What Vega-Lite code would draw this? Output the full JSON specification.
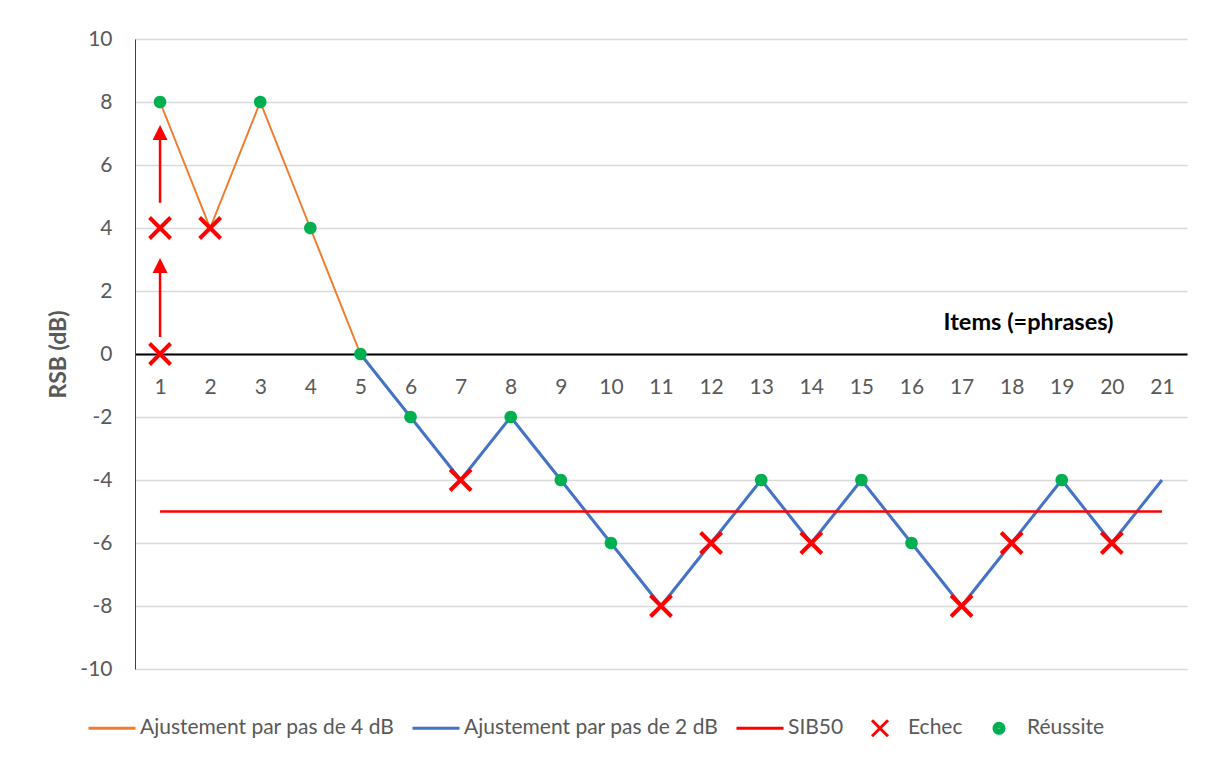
{
  "$schema": "https://vega.github.io/schema/vega-lite/v6.json",
  "width": 1052,
  "height": 630,
  "autosize": {"type": "none"},
  "padding": {"left": 135, "top": 39, "right": 25, "bottom": 89},
  "background": "white",
  "config": {
    "view": {"stroke": null},
    "font": "Lato",
    "legend": {
      "orient": "none", "legendX": -48, "legendY": 664, "direction": "horizontal",
      "symbolSize": 2209, "symbolStrokeWidth": 3, "labelFontSize": 21, "labelColor": "#595959", "labelFont": "Lato",
      "labelOffset": 3, "columnPadding": 11, "padding": 0, "labelLimit": 400, "symbolOpacity": 1
    }
  },
  "datasets": {
    "orange": [
      {"item": 1, "rsb": 8}, {"item": 2, "rsb": 4}, {"item": 3, "rsb": 8}, {"item": 4, "rsb": 4}, {"item": 5, "rsb": 0}
    ],
    "blue": [
      {"item": 5, "rsb": 0}, {"item": 6, "rsb": -2}, {"item": 7, "rsb": -4}, {"item": 8, "rsb": -2},
      {"item": 9, "rsb": -4}, {"item": 10, "rsb": -6}, {"item": 11, "rsb": -8}, {"item": 12, "rsb": -6},
      {"item": 13, "rsb": -4}, {"item": 14, "rsb": -6}, {"item": 15, "rsb": -4}, {"item": 16, "rsb": -6},
      {"item": 17, "rsb": -8}, {"item": 18, "rsb": -6}, {"item": 19, "rsb": -4}, {"item": 20, "rsb": -6},
      {"item": 21, "rsb": -4}
    ],
    "sib": [{"item": 1, "item2": 21, "rsb": -5}],
    "arrows": [{"item": 1, "rsb": 0.54, "rsb2": 2.6}, {"item": 1, "rsb": 4.8, "rsb2": 6.8}],
    "heads": [{"item": 1, "rsb": 2.57}, {"item": 1, "rsb": 6.79}],
    "marks": [
      {"item": 1, "rsb": 0, "result": "Echec"}, {"item": 1, "rsb": 4, "result": "Echec"},
      {"item": 2, "rsb": 4, "result": "Echec"}, {"item": 7, "rsb": -4, "result": "Echec"},
      {"item": 11, "rsb": -8, "result": "Echec"}, {"item": 12, "rsb": -6, "result": "Echec"},
      {"item": 14, "rsb": -6, "result": "Echec"}, {"item": 17, "rsb": -8, "result": "Echec"},
      {"item": 18, "rsb": -6, "result": "Echec"}, {"item": 20, "rsb": -6, "result": "Echec"},
      {"item": 1, "rsb": 8, "result": "Réussite"}, {"item": 3, "rsb": 8, "result": "Réussite"},
      {"item": 4, "rsb": 4, "result": "Réussite"}, {"item": 5, "rsb": 0, "result": "Réussite"},
      {"item": 6, "rsb": -2, "result": "Réussite"}, {"item": 8, "rsb": -2, "result": "Réussite"},
      {"item": 9, "rsb": -4, "result": "Réussite"}, {"item": 10, "rsb": -6, "result": "Réussite"},
      {"item": 13, "rsb": -4, "result": "Réussite"}, {"item": 15, "rsb": -4, "result": "Réussite"},
      {"item": 16, "rsb": -6, "result": "Réussite"}, {"item": 19, "rsb": -4, "result": "Réussite"}
    ]
  },
  "encoding": {
    "x": {
      "field": "item", "type": "quantitative",
      "scale": {"domain": [0.5, 21.5], "nice": false, "zero": false},
      "axis": {
        "values": [1,2,3,4,5,6,7,8,9,10,11,12,13,14,15,16,17,18,19,20,21],
        "offset": -315, "domainColor": "black", "domainWidth": 2,
        "ticks": false, "tickSize": 0, "grid": false,
        "labelPadding": 22, "labelFontSize": 21, "labelColor": "#595959", "labelFont": "Lato",
        "labelFlush": false, "labelOverlap": false,
        "title": "Items (=phrases)", "titleFont": "Lato", "titleFontSize": 23.5, "titleFontWeight": "bold",
        "titleColor": "black", "titleX": 978, "titleY": -25, "titleAlign": "right", "titleBaseline": "alphabetic"
      }
    },
    "y": {
      "field": "rsb", "type": "quantitative",
      "scale": {"domain": [-10, 10], "nice": false, "zero": false},
      "axis": {
        "values": [-10,-8,-6,-4,-2,0,2,4,6,8,10],
        "labelExpr": "'' + datum.value",
        "ticks": false, "tickSize": 0, "labelPadding": 23,
        "domainColor": "#404040", "domainWidth": 1,
        "gridColor": "#D9D9D9", "gridWidth": 1.5,
        "labelFontSize": 21, "labelColor": "#595959", "labelFont": "Lato",
        "title": "RSB (dB)", "titleFont": "Lato", "titleFontSize": 23, "titleFontWeight": "bold", "titleColor": "#595959",
        "titleX": -77, "titleY": 315, "titleAngle": -90, "titleAlign": "center", "titleBaseline": "middle"
      }
    }
  },
  "layer": [
    {
      "data": {"name": "orange"},
      "mark": {"type": "line", "color": "#ED7D31", "strokeWidth": 2}
    },
    {
      "data": {"name": "blue"},
      "mark": {"type": "line", "color": "#4472C4", "strokeWidth": 3}
    },
    {
      "data": {"name": "sib"},
      "mark": {"type": "rule", "color": "#FF0000", "strokeWidth": 2.5},
      "encoding": {"x2": {"field": "item2"}}
    },
    {
      "data": {"name": "arrows"},
      "mark": {"type": "rule", "color": "#FF0000", "strokeWidth": 2.5},
      "encoding": {"y2": {"field": "rsb2"}}
    },
    {
      "data": {"name": "heads"},
      "mark": {"type": "point", "shape": "M0,-1L-0.5,0L0.5,0Z", "size": 900, "filled": true, "color": "#FF0000", "opacity": 1, "strokeWidth": 0}
    },
    {
      "data": {"name": "marks"},
      "transform": [{"filter": "datum.result === 'Echec'"}],
      "mark": {"type": "point", "size": 3815, "filled": false, "opacity": 1, "strokeWidth": 4},
      "encoding": {
        "color": {
          "field": "result", "type": "nominal",
          "scale": {
            "domain": ["Ajustement par pas de 4 dB", "Ajustement par pas de 2 dB", "SIB50", "Echec", "Réussite"],
            "range": ["#ED7D31", "#4472C4", "#FF0000", "#FF0000", "#00B050"]
          },
          "legend": {"title": null}
        },
        "shape": {
          "field": "result", "type": "nominal",
          "scale": {
            "domain": ["Ajustement par pas de 4 dB", "Ajustement par pas de 2 dB", "SIB50", "Echec", "Réussite"],
            "range": [
              "M0,-0.7L0,-0.7M0,0.7L0,0.7M-1,0L1,0",
              "M0,-0.7L0,-0.7M0,0.7L0,0.7M-1,0L1,0",
              "M0,-0.7L0,-0.7M0,0.7L0,0.7M-1,0L1,0",
              "M0,-0.7L0,-0.7M0,0.7L0,0.7M-0.34,-0.34L0.34,0.34M-0.34,0.34L0.34,-0.34",
              "M0,-0.7L0,-0.7M0,0.7L0,0.7M-0.043,0A0.043,0.043,0,1,1,0.043,0A0.043,0.043,0,1,1,-0.043,0ZM-0.149,0A0.149,0.149,0,1,1,0.149,0A0.149,0.149,0,1,1,-0.149,0ZM-0.213,0A0.213,0.213,0,1,1,0.213,0A0.213,0.213,0,1,1,-0.213,0Z"
            ]
          },
          "legend": {"title": null}
        }
      }
    },
    {
      "data": {"name": "marks"},
      "transform": [{"filter": "datum.result === 'Réussite'"}],
      "mark": {"type": "point", "shape": "M-0.28,0A0.28,0.28,0,1,1,0.28,0A0.28,0.28,0,1,1,-0.28,0Z", "size": 2025, "filled": true, "strokeWidth": 0, "opacity": 1, "color": "#00B050"}
    }
  ]
}
